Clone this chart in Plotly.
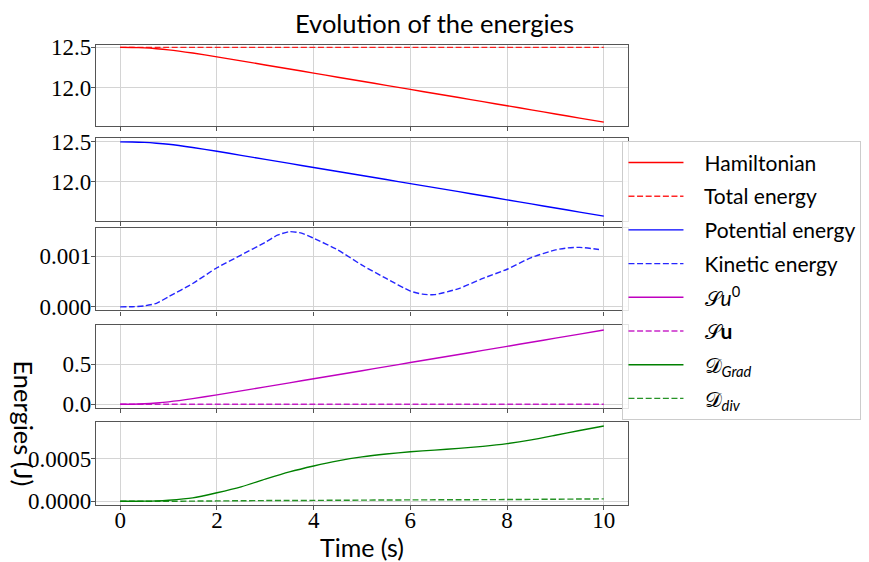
import plotly.graph_objects as go
from plotly.subplots import make_subplots

t = [0, 0.25, 0.5, 0.75, 1, 1.5, 2, 2.5, 3, 3.5, 4, 4.5, 5, 5.5, 6, 6.5, 7, 7.5, 8, 8.5, 9, 9.5, 10]
hamiltonian = [12.5, 12.499, 12.494, 12.484, 12.47, 12.43, 12.383, 12.333, 12.282, 12.232, 12.181, 12.13,
               12.08, 12.029, 11.978, 11.927, 11.877, 11.826, 11.775, 11.724, 11.673, 11.622, 11.571]
total_energy = [12.5] * len(t)
potential = [12.5, 12.499, 12.494, 12.484, 12.4698, 12.4295, 12.3822, 12.332, 12.2807, 12.2305, 12.1796,
             12.1289, 12.0792, 12.0284, 11.9777, 11.9268, 11.8766, 11.8254, 11.7743, 11.723, 11.6719,
             11.6208, 11.5699]
t_kin = [0, 0.25, 0.5, 0.75, 1, 1.5, 2, 2.5, 3, 3.25, 3.5, 3.75, 4, 4.5, 5, 5.5, 6, 6.25, 6.5, 7, 7.5,
         8, 8.5, 9, 9.25, 9.5, 9.9]
kinetic = [0, 0.000003, 0.00002, 0.00007, 0.0002, 0.00046, 0.00077, 0.00102, 0.00127, 0.00141, 0.00148,
           0.00145, 0.00135, 0.00112, 0.00082, 0.00056, 0.00031, 0.00025, 0.00024, 0.00036, 0.00056,
           0.00074, 0.00097, 0.00112, 0.00116, 0.00117, 0.00113]
su0 = [0, 0.001, 0.006, 0.016, 0.03, 0.07, 0.117, 0.167, 0.218, 0.268, 0.319, 0.37, 0.42, 0.471, 0.522,
       0.573, 0.623, 0.674, 0.725, 0.776, 0.827, 0.878, 0.929]
su = [0.0] * len(t)
d_grad = [0, 0, 0.000001, 0.000004, 0.000012, 0.00004, 0.0001, 0.00017, 0.00026, 0.000345, 0.000415,
          0.000475, 0.000522, 0.000556, 0.000582, 0.000602, 0.000622, 0.000646, 0.000678, 0.000722,
          0.000776, 0.000832, 0.000886]
d_div = [0, 0, 0, 0, 0, 0.000002, 0.000004, 0.000006, 0.000008, 0.000009, 0.00001, 0.000012, 0.000013,
         0.000015, 0.000016, 0.000017, 0.000018, 0.000019, 0.00002, 0.000022, 0.000024, 0.000026, 0.000028]

x_ticks = [0, 2, 4, 6, 8, 10]

fig = make_subplots(rows=5, cols=1, shared_xaxes=True)

MAG = "#bf00bf"
DASH = "6px,2.6px"
PAD = "\u00a0" * 3
series = [
    (1, t, hamiltonian, "Hamiltonian", "red", "solid"),
    (1, t, total_energy, "Total energy", "red", DASH),
    (2, t, potential, "Potential energy", "blue", "solid"),
    (3, t_kin, kinetic, "Kinetic energy", "blue", DASH),
    (4, t, su0, "𝒮<i>u</i><sup>0</sup>", MAG, "solid"),
    (4, t, su, "𝒮<b>u</b>", MAG, DASH),
    (5, t, d_grad, "𝒟<sub><i>Grad</i></sub>", "green", "solid"),
    (5, t, d_div, "𝒟<sub><i>div</i></sub>", "green", DASH),
]
for i, (row, xx, yy, name, col, dash) in enumerate(series):
    fig.add_trace(go.Scatter(x=xx, y=yy, name=PAD + name, mode="lines",
                             line=dict(color=col, dash=dash, width=1.4, shape="spline", smoothing=0.6),
                             opacity=0.85 if dash != "solid" else 1.0,
                             legendgroup=f"g{i}"),
                  row=row, col=1)

domains = [[0.824, 1.0], [0.618, 0.798], [0.423, 0.602], [0.211, 0.391], [0.0, 0.180]]
yranges = [[11.524, 12.53], [11.5125, 12.55], [-0.00007, 0.00155], [-0.046, 0.99], [-0.000044, 0.00093]]
yticks = [([12.0, 12.5], ["12.0", "12.5"]), ([12.0, 12.5], ["12.0", "12.5"]),
          ([0.0, 0.001], ["0.000", "0.001"]), ([0.0, 0.5], ["0.0", "0.5"]),
          ([0.0, 0.0005], ["0.0000", "0.0005"])]

tickfont = dict(family="Liberation Serif, serif", size=23, color="#000")
for i in range(5):
    fig.update_yaxes(row=i + 1, col=1, domain=domains[i], range=yranges[i],
                     tickvals=yticks[i][0], ticktext=yticks[i][1], tickfont=tickfont,
                     showgrid=True, gridcolor="#d4d4d4", gridwidth=1, zeroline=False,
                     showline=True, linecolor="#555", linewidth=1.3, mirror=True,
                     ticks="outside", ticklen=4, tickcolor="#555", automargin=False,
                     ticklabelstandoff=-5)
    fig.update_xaxes(row=i + 1, col=1, range=[-0.5, 10.5], tickvals=x_ticks,
                     ticktext=[str(v) for v in x_ticks], tickfont=tickfont,
                     showticklabels=(i == 4),
                     showgrid=True, gridcolor="#d4d4d4", gridwidth=1, zeroline=False,
                     showline=True, linecolor="#555", linewidth=1.3, mirror=True,
                     ticks="outside", ticklen=4, tickcolor="#555", automargin=False)

fig.update_xaxes(row=5, col=1, ticklabelstandoff=-10,
                 title=dict(text="Time (s)", font=dict(family="Lato, sans-serif", size=25, color="#000"),
                            standoff=16))

# page body has an 8px margin: figure is 8px smaller so it fits the 869x562 window
W, H = 861, 554
fig.update_layout(
    width=W, height=H,
    margin=dict(l=88, r=241, t=37, b=57, autoexpand=False),
    paper_bgcolor="white", plot_bgcolor="white",
    title=dict(text="Evolution of the energies", xref="container", yref="container",
               x=(434.5 - 8) / W, xanchor="center", y=1 - (24 - 8) / H, yanchor="middle",
               font=dict(family="Lato, sans-serif", size=25.5, color="#000")),
    legend=dict(x=0.9896, y=0.7905, xanchor="left", yanchor="top",
                font=dict(family="Lato, sans-serif", size=21, color="#000"),
                bgcolor="rgba(255,255,255,0.85)", bordercolor="#cccccc", borderwidth=1,
                itemwidth=55, tracegroupgap=3.4),
    showlegend=True,
)

fig.add_annotation(text="Energies (J)", xref="paper", yref="paper", x=-0.135, y=0.177,
                   textangle=90, showarrow=False, xanchor="center", yanchor="middle",
                   font=dict(family="Lato, sans-serif", size=25.5, color="#000"))

fig.write_html("out.html")
